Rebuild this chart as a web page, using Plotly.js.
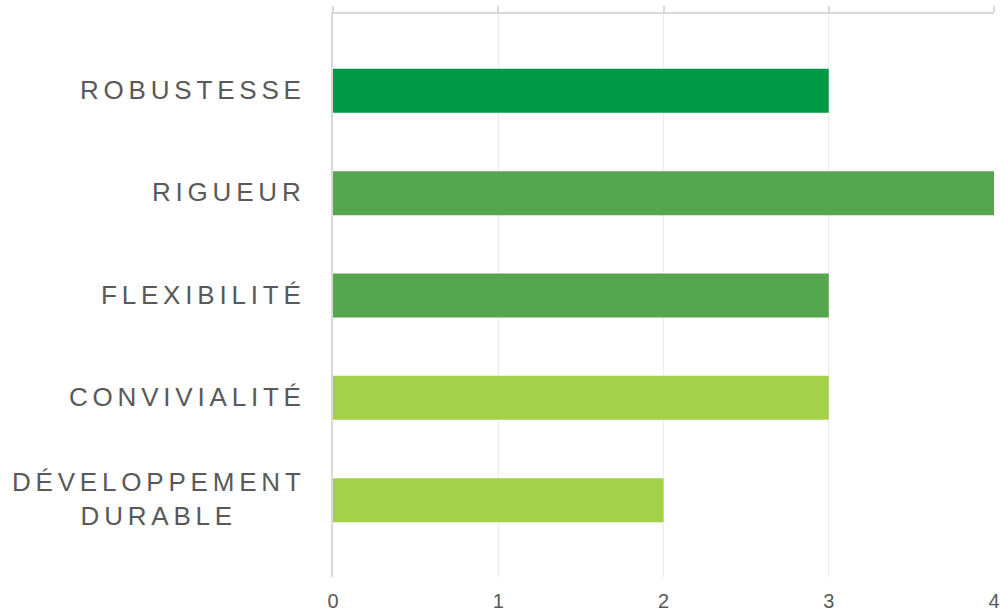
<!DOCTYPE html>
<html>
<head>
<meta charset="utf-8">
<script src="https://cdn.plot.ly/plotly-3.0.1.min.js"></script>
<style>
  html, body { margin: 0; padding: 0; background: #ffffff; }
  #chart { width: 1000px; height: 612px; }
  .annotation-text { letter-spacing: 4.8px; }
</style>
</head>
<body>
<div id="chart"></div>
<script>
// Data
const categories = ["ROBUSTESSE", "RIGUEUR", "FLEXIBILITÉ", "CONVIVIALITÉ", "DÉVELOPPEMENT<br>DURABLE"];
const values = [3, 4, 3, 3, 2];
const barColors = ["#009A46", "#55A64E", "#55A64E", "#A4D14A", "#A4D14A"];
const tickValues = [0, 1, 2, 3, 4];
const tickLabels = ["0", "1", "2", "3", "4"];

const textColor = "#595959";
const axisLineColor = "#D9D9D9";
const gridColor = "#EBEBEB";

const traces = [
  {
    type: "bar",
    orientation: "h",
    x: values,
    y: categories,
    width: 0.43,
    marker: { color: barColors },
    hoverinfo: "x+y",
    showlegend: false
  },
  {
    type: "scatter",
    mode: "markers",
    x: [0],
    y: [categories[0]],
    xaxis: "x2",
    yaxis: "y",
    marker: { opacity: 0 },
    hoverinfo: "skip",
    showlegend: false
  }
];

const annotations = categories.map((c) => ({
  xref: "paper",
  yref: "y",
  x: 0,
  y: c,
  text: c,
  showarrow: false,
  xanchor: "right",
  yanchor: "middle",
  align: "center",
  xshift: -25,
  yshift: 1,
  font: { family: "Liberation Sans, Arial, sans-serif", size: 26, color: textColor }
}));

const layout = {
  width: 1000,
  height: 612,
  margin: { l: 333, r: 6, t: 14, b: 35, pad: 0 },
  paper_bgcolor: "#ffffff",
  plot_bgcolor: "#ffffff",
  font: { family: "Liberation Sans, Arial, sans-serif", color: textColor },
  showlegend: false,
  bargap: 0.57,
  xaxis: {
    range: [0, 4],
    tickvals: tickValues,
    ticktext: tickLabels,
    tickfont: { size: 20, color: textColor },
    ticklabelstandoff: 10,
    showgrid: true,
    gridcolor: gridColor,
    gridwidth: 1,
    zeroline: false,
    showline: false,
    ticks: "",
    fixedrange: true
  },
  xaxis2: {
    overlaying: "x",
    side: "top",
    range: [0, 4],
    tickvals: tickValues,
    showticklabels: false,
    showgrid: false,
    zeroline: false,
    showline: true,
    linecolor: axisLineColor,
    linewidth: 2,
    ticks: "outside",
    ticklen: 6,
    tickwidth: 2,
    tickcolor: axisLineColor,
    fixedrange: true
  },
  yaxis: {
    type: "category",
    categoryorder: "array",
    categoryarray: categories,
    range: [4.75, -0.75],
    showticklabels: false,
    showgrid: false,
    zeroline: false,
    showline: true,
    linecolor: axisLineColor,
    linewidth: 2,
    ticks: "",
    fixedrange: true
  },
  annotations: annotations
};

Plotly.newPlot("chart", traces, layout, { displayModeBar: false, staticPlot: true });
</script>
</body>
</html>
